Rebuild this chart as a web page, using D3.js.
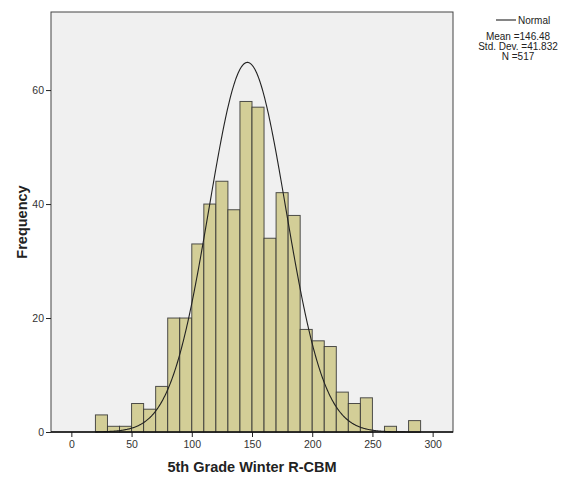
<!DOCTYPE html>
<html>
<head>
<meta charset="utf-8">
<script src="https://cdn.jsdelivr.net/npm/d3@7"></script>
<style>
  body { margin: 0; background: #fff; }
  text { font-family: Arial, "Liberation Sans", sans-serif; }
</style>
</head>
<body>
<svg id="chart" width="571" height="478"></svg>
<script>
// histogram bins (lower edge, width 10) and counts
let binLows = [20, 30, 40, 50, 60, 70, 80, 90, 100, 110, 120, 130, 140, 150, 160,
               170, 180, 190, 200, 210, 220, 230, 240, 250, 260, 270, 280];
let counts  = [3, 1, 1, 5, 4, 8, 20, 20, 33, 40, 44, 39, 58, 57, 34,
               42, 38, 18, 16, 15, 7, 5, 6, 0, 1, 0, 2];
let binWidth = 10;

let xTicks = [0, 50, 100, 150, 200, 250, 300];
let yTicks = [0, 20, 40, 60];

// normal curve as it is drawn
let curveMean = 146.2;
let curveSd = 31.8;
let curveN = 517;

let legendLines = ['Mean =146.48', 'Std. Dev. =41.832', 'N =517'];

let svg = d3.select('#chart');

let plot = {'left': 51, 'right': 453, 'top': 12, 'bottom': 432};

let x = d3.scaleLinear().domain([-16.9, 316.9]).range([plot.left, plot.right]);
let y = d3.scaleLinear().domain([0, 73.7]).range([plot.bottom, plot.top]);

// plot background
svg.append('rect')
  .attr('x', plot.left)
  .attr('y', plot.top)
  .attr('width', plot.right - plot.left)
  .attr('height', plot.bottom - plot.top)
  .style('fill', '#f0f0f0')
  .style('stroke', '#444')
  .style('stroke-width', 1);

let bars = binLows.map((lo, i) => ({'lo': lo, 'hi': lo + binWidth, 'n': counts[i]}))
  .filter(d => d.n > 0);

svg.append('g').selectAll('.bar')
  .data(bars)
  .join('rect')
  .attr('class', 'bar')
  .attr('x', d => x(d.lo))
  .attr('y', d => y(d.n))
  .attr('width', d => x(d.hi) - x(d.lo))
  .attr('height', d => y(0) - y(d.n))
  .style('fill', '#d3ce97')
  .style('stroke', '#333')
  .style('stroke-opacity', 0.85)
  .style('stroke-width', 1);

// normal curve
let scale = curveN * binWidth / (curveSd * Math.sqrt(2 * Math.PI));
let pts = d3.range(20, 290.5, 0.5).map(v => [v, scale * Math.exp(-0.5 * Math.pow((v - curveMean) / curveSd, 2))]);
svg.append('path')
  .datum(pts)
  .attr('d', d3.line().x(d => x(d[0])).y(d => y(d[1])))
  .style('fill', 'none')
  .style('stroke', '#222')
  .style('stroke-width', 1.1);

// axes
let xAxis = svg.append('g')
  .attr('transform', `translate(0,${plot.bottom})`)
  .call(d3.axisBottom(x).tickValues(xTicks).tickSize(5).tickPadding(4).tickFormat(d3.format('d')));
let yAxis = svg.append('g')
  .attr('transform', `translate(${plot.left},0)`)
  .call(d3.axisLeft(y).tickValues(yTicks).tickSize(5).tickPadding(2).tickFormat(d3.format('d')));

[xAxis, yAxis].forEach(a => {
  a.select('.domain').remove();
  a.selectAll('line').style('stroke', '#222');
  a.selectAll('text').style('font-size', '10.5px').style('fill', '#333')
    .style('font-family', 'Arial, "Liberation Sans", sans-serif');
});

svg.append('line')
  .attr('x1', plot.left).attr('x2', plot.right)
  .attr('y1', plot.bottom).attr('y2', plot.bottom)
  .style('stroke', '#111').style('stroke-width', 1.5);

// axis titles
svg.append('text')
  .attr('x', (plot.left + plot.right) / 2)
  .attr('y', 472)
  .attr('text-anchor', 'middle')
  .style('font-size', '14.5px')
  .style('font-weight', 'bold')
  .style('fill', '#222')
  .text('5th Grade Winter R-CBM');

svg.append('text')
  .attr('transform', 'translate(27,222) rotate(-90)')
  .attr('text-anchor', 'middle')
  .style('font-size', '14.5px')
  .style('font-weight', 'bold')
  .style('fill', '#222')
  .text('Frequency');

// legend
svg.append('line')
  .attr('x1', 496).attr('x2', 516)
  .attr('y1', 20).attr('y2', 20)
  .style('stroke', '#222').style('stroke-width', 1.1);
svg.append('text')
  .attr('x', 518).attr('y', 23.5)
  .style('font-size', '10px')
  .style('fill', '#222')
  .text('Normal');

svg.append('g').selectAll('.stat')
  .data(legendLines)
  .join('text')
  .attr('class', 'stat')
  .attr('x', 518)
  .attr('y', (d, i) => 40 + i * 10)
  .attr('text-anchor', 'middle')
  .style('font-size', '10px')
  .style('fill', '#222')
  .text(d => d);
</script>
</body>
</html>
